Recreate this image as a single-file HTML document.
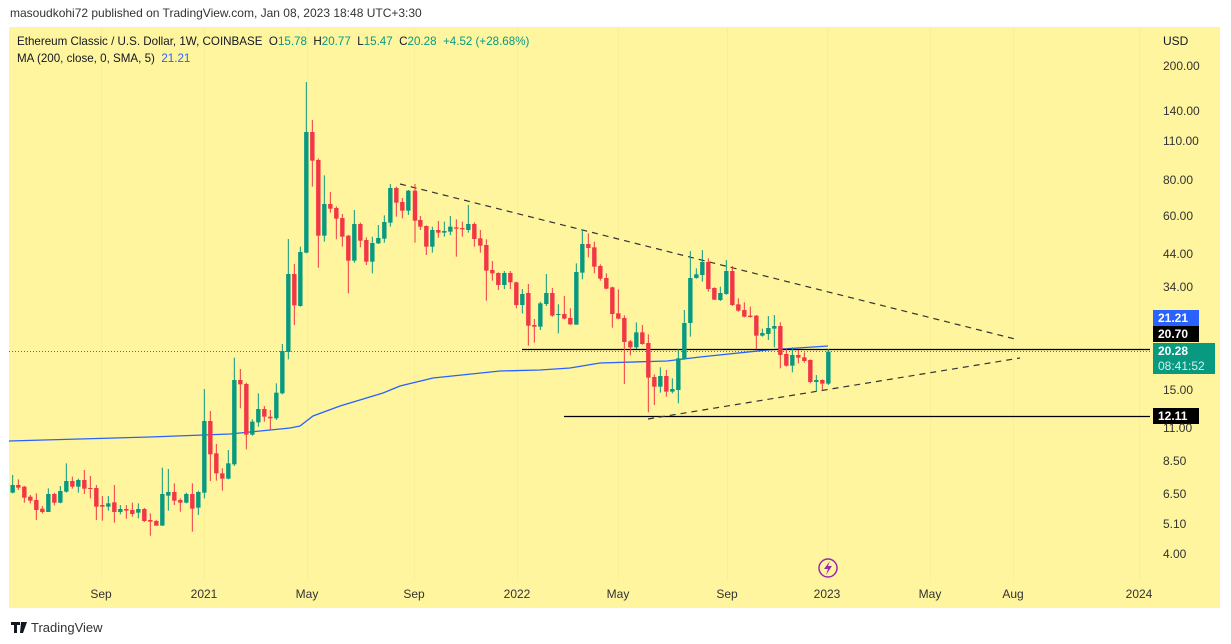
<!DOCTYPE html>
<html><head><meta charset="utf-8"><style>
body{margin:0;width:1231px;height:644px;background:#fff;font-family:"Liberation Sans",sans-serif;overflow:hidden;position:relative}
.t{position:absolute;white-space:nowrap;font-size:12px;color:#131722}
</style></head><body>
<div class="t" style="left:10px;top:6px;color:#333;font-size:12px">masoudkohi72 published on TradingView.com, Jan 08, 2023 18:48 UTC+3:30</div>
<svg id="s" width="1231" height="644" style="position:absolute;left:0;top:0">
<rect x="9" y="27" width="1211" height="581" fill="#fef59e"/>
<g stroke="#faef96" stroke-width="1">
<line x1="101.5" y1="27" x2="101.5" y2="580"/><line x1="204.5" y1="27" x2="204.5" y2="580"/><line x1="307.5" y1="27" x2="307.5" y2="580"/><line x1="414.5" y1="27" x2="414.5" y2="580"/><line x1="517.5" y1="27" x2="517.5" y2="580"/><line x1="618.5" y1="27" x2="618.5" y2="580"/><line x1="727.5" y1="27" x2="727.5" y2="580"/><line x1="827.5" y1="27" x2="827.5" y2="580"/><line x1="930.5" y1="27" x2="930.5" y2="580"/><line x1="1013.5" y1="27" x2="1013.5" y2="580"/><line x1="1139.5" y1="27" x2="1139.5" y2="580"/>
</g>
<line x1="9" y1="351.5" x2="1150" y2="351.5" stroke="#089981" stroke-dasharray="1,2" stroke-width="1"/>
<polyline fill="none" stroke="#2962ff" stroke-width="1.3" points="9,441 150,437 230,434 290,428 300,426 313,416 340,406 383,393 400,386 433,378 500,371 540,370 570,368 600,363 667,361 700,357 767,350 828,346"/>
<line x1="522" y1="349.5" x2="1150" y2="349.5" stroke="#000" stroke-width="1.2"/>
<line x1="564" y1="416.5" x2="1150" y2="416.5" stroke="#000" stroke-width="1.2"/>
<line x1="400" y1="184" x2="1015" y2="339" stroke="#333" stroke-width="1.2" stroke-dasharray="6,5"/>
<line x1="648" y1="419" x2="1020" y2="358" stroke="#333" stroke-width="1.2" stroke-dasharray="6,5"/>
<g id="c"></g>
<circle cx="828" cy="568" r="9" fill="none" stroke="#9c27b0" stroke-width="1.5"/>
<path d="M830,561 L824,569 L828,569 L826,575 L832,566 L828,566 Z" fill="#9c27b0"/>
<rect x="1153" y="310" width="46" height="16" fill="#2962ff"/>
<rect x="1153" y="326" width="46" height="16" fill="#000"/>
<rect x="1153" y="343" width="62" height="31" fill="#089981"/>
<rect x="1153" y="408" width="46" height="16" fill="#000"/>
<path d="M11,622 h9 v3 h-3 v8 h-3 v-8 h-3z M21,622 h6 l-4,11 h-3z" fill="#131722"/>
</svg>
<div class="t" style="left:17px;top:35px;font-size:11.6px">Ethereum Classic / U.S. Dollar, 1W, COINBASE&nbsp; O<span style="color:#089981">15.78</span>&nbsp; H<span style="color:#089981">20.77</span>&nbsp; L<span style="color:#089981">15.47</span>&nbsp; C<span style="color:#089981">20.28</span>&nbsp; <span style="color:#089981">+4.52 (+28.68%)</span></div>
<div class="t" style="left:17px;top:52px;font-size:11.6px">MA (200, close, 0, SMA, 5)&nbsp; <span style="color:#2962ff">21.21</span></div>
<div class="t" style="left:1163px;top:34px">USD</div>
<div id="px"></div>
<div class="t" style="left:1158px;top:311px;color:#fff;font-weight:bold">21.21</div>
<div class="t" style="left:1158px;top:327px;color:#fff;font-weight:bold">20.70</div>
<div class="t" style="left:1158px;top:344px;color:#fff;font-weight:bold">20.28</div>
<div class="t" style="left:1158px;top:359px;color:#d8f0ea">08:41:52</div>
<div class="t" style="left:1158px;top:409px;color:#fff;font-weight:bold">12.11</div>
<div id="tx"></div>
<div class="t" style="left:31px;top:620px;font-size:13px;color:#333">TradingView</div>
<script>
var g=document.getElementById('c'),h='';
var A=[[38,1245,1268,1215,1270,'g'],[55,1245,1253,1228,1260,'r'],[73,1250,1283,1248,1298,'r'],[91,1280,1292,1275,1300,'r'],[109,1290,1320,1270,1350,'r'],[127,1316,1326,1308,1330,'r'],[145,1272,1326,1255,1326,'g'],[163,1272,1298,1268,1306,'r'],[181,1263,1298,1248,1300,'g'],[199,1233,1265,1180,1268,'g'],[217,1233,1250,1220,1256,'r'],[235,1230,1250,1226,1268,'g'],[253,1230,1256,1200,1272,'r'],[271,1254,1257,1218,1285,'r'],[289,1254,1310,1245,1350,'r'],[307,1305,1310,1278,1352,'r'],[325,1300,1310,1278,1322,'g'],[343,1297,1326,1245,1358,'r'],[361,1317,1326,1305,1333,'g'],[379,1317,1322,1305,1346,'r'],[397,1320,1332,1298,1340,'r'],[415,1317,1328,1300,1345,'g'],[433,1317,1353,1314,1356,'r'],[451,1350,1355,1330,1397,'r'],[469,1353,1367,1350,1367,'r'],[487,1272,1367,1193,1367,'g'],[505,1266,1277,1197,1322,'g'],[523,1266,1292,1240,1305,'r'],[541,1290,1298,1285,1325,'r'],[559,1272,1298,1268,1300,'g'],[577,1272,1316,1240,1385,'r'],[595,1266,1313,1262,1335,'g'],[613,1053,1268,957,1285,'g'],[631,1053,1153,1023,1233,'r'],[649,1150,1210,1122,1232,'r'],[667,1210,1226,1195,1262,'r'],[685,1180,1226,1140,1228,'g'],[703,930,1183,863,1188,'g'],[721,930,943,897,1015,'r'],[739,942,1094,938,1138,'r'],[757,1055,1094,1048,1097,'g'],[775,1017,1057,970,1070,'g'],[793,1017,1040,1008,1055,'r'],[811,1040,1045,1020,1080,'r'],[829,968,1045,940,1050,'g'],[847,843,970,822,973,'g'],[865,612,846,507,868,'g'],[883,612,706,582,765,'r'],[901,546,708,530,710,'g'],[919,186,548,36,550,'g'],[937,186,272,150,350,'r'],[955,270,497,265,593,'r'],[973,402,497,316,515,'g'],[991,402,416,366,428,'r'],[1009,414,446,409,508,'r'],[1027,444,500,432,530,'r'],[1045,497,572,495,670,'r'],[1063,462,572,420,578,'g'],[1081,462,512,458,532,'r'],[1099,510,575,502,585,'r'],[1117,519,575,500,610,'g'],[1135,504,520,465,522,'g'],[1153,456,506,436,518,'g'],[1171,354,458,342,470,'g'],[1189,354,398,350,440,'r'],[1207,396,422,384,445,'r'],[1225,362,422,360,435,'g']];
var B=[[45,62,152,42,218,'r'],[61,150,170,138,180,'r'],[79,168,230,166,255,'r'],[97,180,230,170,248,'g'],[115,180,188,153,203,'r'],[133,183,188,155,200,'g'],[151,170,185,138,195,'g'],[169,172,176,148,260,'r'],[187,174,178,155,200,'r'],[205,162,180,105,188,'g'],[223,162,207,157,230,'r'],[241,205,227,180,248,'r'],[259,225,302,208,392,'r'],[277,300,310,273,332,'r'],[295,309,345,307,360,'r'],[313,309,345,303,357,'g'],[331,309,337,303,357,'r'],[349,337,405,335,415,'r'],[367,372,405,357,430,'g'],[385,369,467,342,527,'r'],[403,465,470,447,518,'r'],[421,400,470,395,480,'g'],[439,369,402,312,408,'g'],[457,369,437,354,440,'r'],[475,432,435,403,490,'g'],[493,432,446,378,448,'r'],[511,444,463,415,465,'r'],[529,306,464,280,464,'g'],[547,222,308,178,328,'g'],[565,222,234,190,262,'r'],[583,232,290,215,310,'r'],[601,288,326,283,332,'r'],[619,324,356,310,358,'r'],[637,352,432,350,473,'r'],[655,430,446,358,448,'r'],[673,444,516,436,642,'r'],[691,514,532,510,556,'r'],[709,487,532,457,537,'g'],[727,487,522,465,524,'r'],[745,519,623,493,727,'r'],[763,621,650,613,705,'r'],[781,618,650,592,668,'g'],[799,618,665,600,680,'r'],[817,657,665,625,670,'g'],[835,565,660,537,700,'g'],[853,459,567,420,569,'g'],[871,324,459,243,500,'g'],[889,313,324,295,326,'g'],[907,276,315,240,335,'g'],[925,276,357,265,365,'r'],[943,354,389,352,390,'r'],[961,369,390,350,393,'g'],[979,303,372,270,374,'g'],[997,303,405,288,408,'r'],[1015,403,422,385,425,'r'],[1033,420,440,397,442,'r'],[1051,437,441,410,443,'r'],[1069,437,497,435,538,'r'],[1087,489,497,476,500,'g'],[1105,474,492,438,510,'g'],[1123,468,476,435,532,'g'],[1141,468,555,457,595,'r'],[1159,552,587,535,590,'r'],[1177,555,587,532,607,'g'],[1195,555,563,540,580,'r'],[1213,562,573,547,578,'r'],[1231,570,636,568,640,'r'],[1249,630,636,615,663,'g'],[1267,630,641,628,660,'r'],[1285,545,641,537,645,'g']];
function d(arr,ox,oy){arr.forEach(function(c){var x=ox+c[0]/3,col=c[5]=='g'?'#089981':'#f23645';var t=oy+c[1]/3,b=oy+c[2]/3;if(b-t<1)b=t+1;
h+='<line x1="'+x+'" x2="'+x+'" y1="'+(oy+c[3]/3)+'" y2="'+(oy+c[4]/3)+'" stroke="'+col+'" stroke-width="1"/>';
h+='<rect x="'+(x-2.2)+'" y="'+t+'" width="4.4" height="'+(b-t)+'" fill="'+col+'"/>';});}
d(A,0,70);d(B,400,170);g.innerHTML=h;
var P=[['200.00',66],['140.00',111],['110.00',141],['80.00',180],['60.00',216],['44.00',254],['34.00',287],['15.00',390],['11.00',428],['8.50',461],['6.50',494],['5.10',524],['4.00',554]],s='';
P.forEach(function(p){s+='<div class="t" style="left:1163px;top:'+(p[1]-7)+'px;color:#333">'+p[0]+'</div>';});
document.getElementById('px').innerHTML=s;
var T=[['Sep',101],['2021',204],['May',307],['Sep',414],['2022',517],['May',618],['Sep',727],['2023',827],['May',930],['Aug',1013],['2024',1139]];s='';
T.forEach(function(t){s+='<div class="t" style="left:'+(t[1]-30)+'px;width:60px;text-align:center;top:587px;color:#333">'+t[0]+'</div>';});
document.getElementById('tx').innerHTML=s;
</script>
</body></html>
